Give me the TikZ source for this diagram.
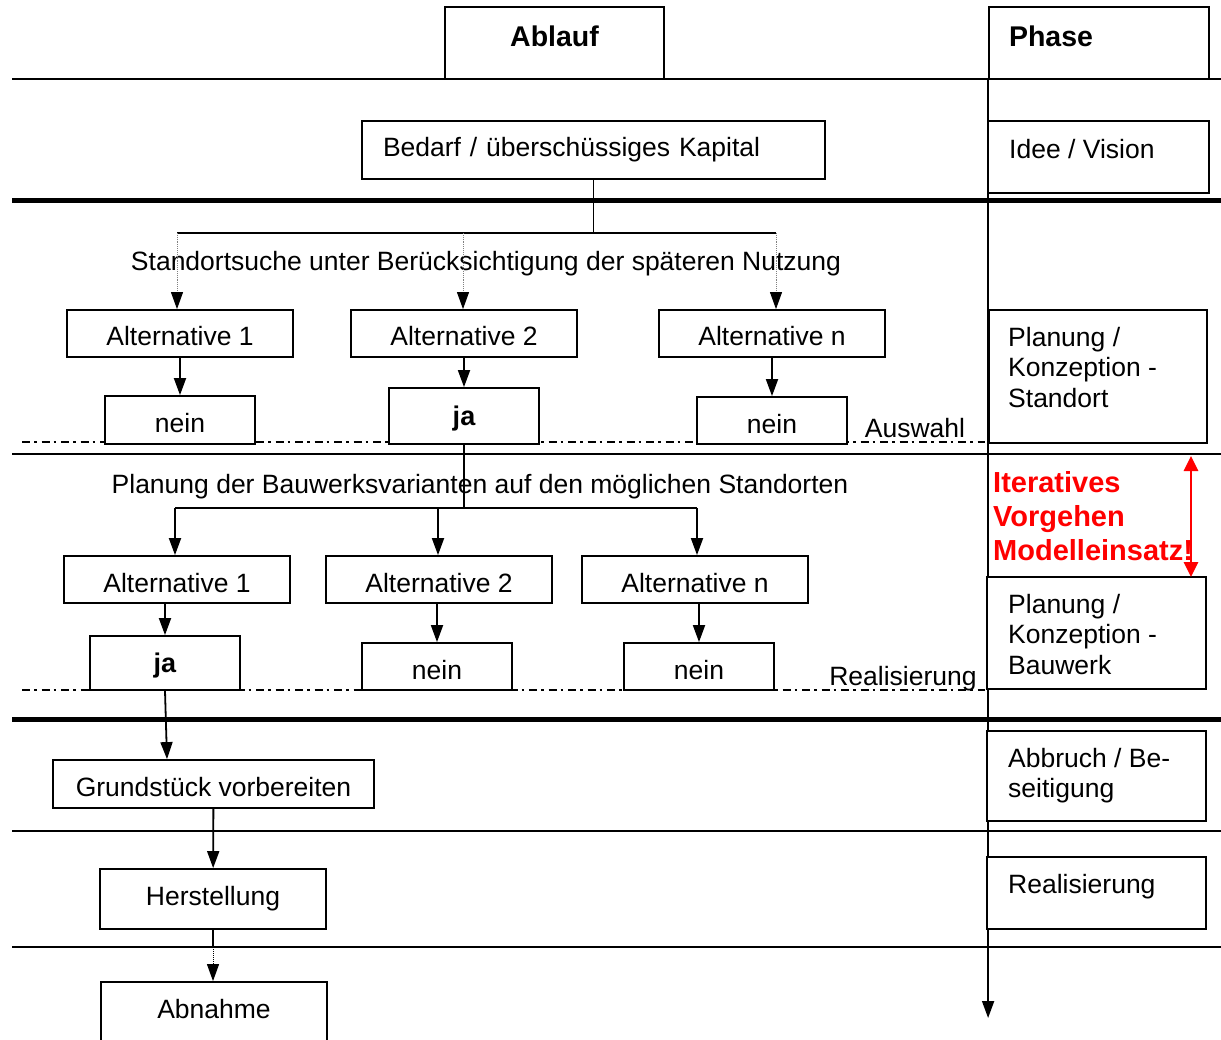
\documentclass[tikz,border=0pt]{standalone}
\usepackage{fontspec}
\setmainfont{Liberation Sans}
\usetikzlibrary{arrows.meta}
\begin{document}
\begin{tikzpicture}[x=1pt,y=-1pt,
  every node/.style={font=\fontsize{26.5}{30.5}\selectfont},
  box/.style={draw, fill=white, line width=1.8pt, inner sep=0pt},
  tbox/.style={box, text height=25pt, text depth=0pt},
  jabox/.style={box, font=\fontsize{27}{30}\selectfont\bfseries, text height=24pt, text depth=5.6pt},
  head/.style={font=\fontsize{28.5}{34}\selectfont\bfseries, text height=21pt, text depth=14pt},
  phasetext/.style={anchor=north west, align=left, inner sep=0pt},
  thinrule/.style={line width=1.8pt},
  thickrule/.style={line width=5pt},
  dashdot/.style={line width=1.8pt, dash pattern=on 8pt off 4pt on 2.5pt off 5pt},
  conn/.style={line width=1.8pt},
  arr/.style={conn, -{Triangle[length=17pt,width=12pt]}},
  dotarr/.style={line width=0.9pt, draw=gray, densely dotted,
    -{Triangle[length=17pt,width=12pt,color=black,fill=black]}},
]
\useasboundingbox (0,0) rectangle (1221,1040);

% horizontal separators of the phases
\draw[thinrule]  (12,79)  -- (1221,79);
\draw[thickrule] (12,201) -- (1221,201);
\draw[thinrule]  (12,454) -- (1221,454);
\draw[thickrule] (12,719) -- (1221,719);
\draw[thinrule]  (12,831) -- (1221,831);
\draw[thinrule]  (12,947) -- (1221,947);

% decision lines
\draw[dashdot] (22,442) -- (985,442);
\draw[dashdot] (22,690) -- (985,690);

% column headers
\node[box, head, minimum width=219, minimum height=72] (abl) at (554.5,43) {Ablauf};
\node[box, head, minimum width=220, minimum height=72, text width=180, align=left, inner xsep=20pt] (ph) at (1099,43) {Phase};

% phase axis
\coordinate (pend) at (988,1018);
\draw[arr] (ph.south west) -- (ph.south west |- pend);

% phase boxes
\node[box, minimum width=221, minimum height=72] (pi) at (1098.5,157) {};
\node[phasetext] (piT) at (1009,139) {Idee / Vision};
\node[box, minimum width=218, minimum height=133] (ps) at (1098,376.5) {};
\node[phasetext] (psT) at (1008,327) {Planung /\\Konzeption -\\Standort};
\node[box, minimum width=219, minimum height=112] (pb) at (1096.5,633) {};
\node[phasetext] (pbT) at (1008,594) {Planung /\\Konzeption -\\Bauwerk};
\node[box, minimum width=219, minimum height=90] (pa) at (1096.5,776) {};
\node[phasetext] (paT) at (1008,748) {Abbruch / Be-\\seitigung};
\node[box, minimum width=219, minimum height=72] (pr) at (1096.5,893) {};
\node[phasetext] (prT) at (1008,874) {Realisierung};

% iteration note
\node[anchor=north west, align=left, inner sep=0pt, text=red,
  font=\fontsize{29}{34}\selectfont\bfseries] (it) at (993,471)
  {Iteratives\\Vorgehen\\Modelleinsatz!};
\coordinate (r1) at (1191,456);
\coordinate (r2) at (1191,577);
\draw[line width=2.8pt, red, {Triangle[length=15pt,width=14pt]}-{Triangle[length=15pt,width=14pt]}] (r1) -- (r2);

% need / capital
\node[box, minimum width=463, minimum height=58, text width=421, align=left, inner xsep=21pt] (bed) at (593.5,150) {Bedarf / überschüssiges Kapital};

% location search
\node (ls) at (486,264) {Standortsuche unter Berücksichtigung der späteren Nutzung};
\node[tbox, minimum width=226, minimum height=47] (a11) at (180,333.5) {Alternative 1};
\node[tbox, minimum width=226, minimum height=47] (a12) at (464,333.5) {Alternative 2};
\node[tbox, minimum width=226, minimum height=47] (a1n) at (772,333.5) {Alternative n};
\node[tbox, minimum width=150, minimum height=48] (n11) at (180,420) {nein};
\node[jabox, minimum width=150, minimum height=56] (j1) at (464,416) {ja};
\node[tbox, minimum width=150, minimum height=47] (n1n) at (772,420.5) {nein};
\node (aw) at (915,428) {Auswahl};

\coordinate (s1) at (177,233);
\coordinate (s2) at (463,233);
\coordinate (s3) at (776,233);
\draw[conn] (bed.south) -- (bed.south |- s1);
\draw[conn] (s1) -- (s3);
\draw[dotarr] (s1) -- (s1 |- a11.north);
\draw[dotarr] (s2) -- (s2 |- a12.north);
\draw[dotarr] (s3) -- (s3 |- a1n.north);
\draw[arr] (a11) -- (n11);
\draw[arr] (a12) -- (j1);
\draw[arr] (a1n) -- (n1n);

% building variants
\node (bv) at (480,487) {Planung der Bauwerksvarianten auf den möglichen Standorten};
\node[tbox, minimum width=226, minimum height=47] (a21) at (177,579.5) {Alternative 1};
\node[tbox, minimum width=226, minimum height=47] (a22) at (439,579.5) {Alternative 2};
\node[tbox, minimum width=226, minimum height=47] (a2n) at (695,579.5) {Alternative n};
\node[jabox, minimum width=150, minimum height=54] (j2) at (165,663) {ja};
\node[tbox, minimum width=150, minimum height=47] (n22) at (437,666.5) {nein};
\node[tbox, minimum width=150, minimum height=47] (n2n) at (699,666.5) {nein};
\node (rl) at (903,679) {Realisierung};

\coordinate (t1) at (175,508);
\coordinate (t2) at (438,508);
\coordinate (t3) at (697,508);
\draw[conn] (j1.south) -- (j1.south |- t1);
\draw[conn] (t1) -- (t3);
\draw[arr] (t1) -- (t1 |- a21.north);
\draw[arr] (t2) -- (t2 |- a22.north);
\draw[arr] (t3) -- (t3 |- a2n.north);
\draw[arr] (j2.north |- a21.south) -- (j2.north);
\draw[arr] (n22.north |- a22.south) -- (n22.north);
\draw[arr] (n2n.north |- a2n.south) -- (n2n.north);

% realisation
\node[tbox, minimum width=321, minimum height=48] (gv) at (213.5,784) {Grundstück vorbereiten};
\node[box, minimum width=226, minimum height=60] (hs) at (213,899) {Herstellung};
\node[box, minimum width=226, minimum height=62, text height=19pt, text depth=8pt] (ab) at (214,1013) {Abnahme};

\draw[arr] (j2.south) -- ([xshift=2pt]j2.south |- gv.north);
\draw[arr] (gv) -- (hs);
\coordinate (hm) at (213,947);
\draw[conn] (hs.south) -- (hm);
\draw[line width=1pt, densely dotted, -{Triangle[length=17pt,width=12pt]}] (hm) -- (hm |- ab.north);
\end{tikzpicture}
\end{document}
